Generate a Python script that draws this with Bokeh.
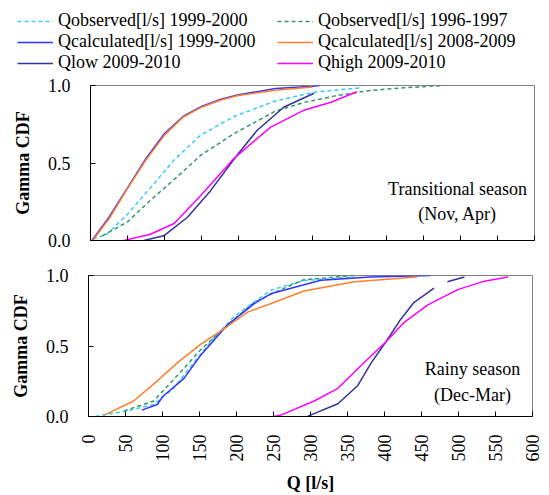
import math
from bokeh.plotting import figure
from bokeh.layouts import column
from bokeh.models import Range1d, FixedTicker, Legend, LegendItem, Label, PrintfTickFormatter
from bokeh.embed import file_html
from bokeh.resources import INLINE

FONT = "Liberation Serif"

# ---------------- data ----------------
x_ticks = [0, 50, 100, 150, 200, 250, 300, 350, 400, 450, 500, 550, 600]
y_ticks = [0.0, 0.5, 1.0]

series_names = [
    "Qobserved[l/s] 1999-2000",
    "Qobserved[l/s] 1996-1997",
    "Qcalculated[l/s] 1999-2000",
    "Qcalculated[l/s] 2008-2009",
    "Qlow 2009-2010",
    "Qhigh 2009-2010",
]

# Transitional season (Nov, Apr)
t_obs99_q = [3, 22, 50, 81, 113, 149, 194, 250, 302, 365]
t_obs99_f = [0.01, 0.04, 0.17, 0.34, 0.52, 0.68, 0.80, 0.90, 0.957, 0.985]
t_obs96_q = [16, 50, 81, 117, 149, 194, 250, 288, 333, 378, 423, 477]
t_obs96_f = [0.03, 0.12, 0.26, 0.41, 0.55, 0.69, 0.835, 0.89, 0.935, 0.968, 0.985, 1.0]
t_calc99_q = [2, 25, 50, 75, 100, 125, 150, 175, 200, 250, 300, 310]
t_calc99_f = [0.0, 0.15, 0.34, 0.53, 0.69, 0.80, 0.865, 0.91, 0.94, 0.98, 0.995, 1.0]
t_calc08_q = [3, 25, 50, 75, 100, 125, 150, 175, 200, 250, 300]
t_calc08_f = [0.0, 0.14, 0.335, 0.52, 0.68, 0.795, 0.86, 0.905, 0.935, 0.97, 0.99]
t_low_q = [72, 99, 131, 162, 198, 225, 261, 302]
t_low_f = [0.0, 0.03, 0.15, 0.32, 0.55, 0.71, 0.86, 0.95]
t_high_q = [45, 81, 113, 149, 194, 243, 288, 324, 360]
t_high_f = [0.0, 0.04, 0.11, 0.29, 0.53, 0.73, 0.84, 0.89, 0.96]

# Rainy season (Dec-Mar)
r_obs99_q = [9, 52, 88, 115, 142, 170, 197, 246, 291, 359]
r_obs99_f = [0.0, 0.04, 0.085, 0.20, 0.38, 0.56, 0.71, 0.895, 0.965, 0.99]
r_obs96_q = [48, 88, 120, 151, 188, 224, 260, 291, 359]
r_obs96_f = [0.04, 0.11, 0.29, 0.47, 0.65, 0.81, 0.90, 0.97, 1.0]
r_calc99_q = [72, 93, 100, 129, 151, 188, 224, 246, 314, 381, 462]
r_calc99_f = [0.045, 0.085, 0.14, 0.27, 0.43, 0.65, 0.80, 0.87, 0.966, 0.99, 1.0]
r_calc08_q = [21, 61, 88, 120, 151, 188, 215, 246, 291, 359, 444]
r_calc08_f = [0.01, 0.11, 0.23, 0.38, 0.51, 0.64, 0.74, 0.80, 0.89, 0.955, 0.99]
r_low_q = [296, 300, 337, 364, 382, 402, 422, 440, 467, float("nan"), 485, 508]
r_low_f = [0.0, 0.01, 0.09, 0.22, 0.38, 0.53, 0.69, 0.81, 0.91, float("nan"), 0.955, 0.99]
r_high_q = [251, 260, 305, 337, 368, 402, 427, 458, 499, 535, 567]
r_high_f = [0.0, 0.01, 0.11, 0.20, 0.36, 0.53, 0.67, 0.79, 0.90, 0.96, 0.99]

# ---------------- styles ----------------
styles = [
    dict(color="#33CCFF", dash="4 3"),
    dict(color="#339966", dash="4 3"),
    dict(color="#3333FF", dash="solid"),
    dict(color="#FF7F2A", dash="solid"),
    dict(color="#333399", dash="solid"),
    dict(color="#FF00FF", dash="solid"),
]


def make_fig(height, left, right, top, bottom, show_xlabels):
    p = figure(width=549, height=height, output_backend="svg", toolbar_location=None,
               x_range=Range1d(0, 600), y_range=Range1d(0, 1),
               min_border_left=left, min_border_right=right,
               min_border_top=top, min_border_bottom=bottom)
    p.frame_align = False
    p.xgrid.visible = False
    p.ygrid.visible = False
    p.outline_line_color = "#808080"
    p.outline_line_width = 1
    p.background_fill_color = "white"
    p.border_fill_color = "white"

    p.yaxis.ticker = FixedTicker(ticks=y_ticks)
    p.yaxis.formatter = PrintfTickFormatter(format="%.1f")
    p.yaxis.minor_tick_line_color = None
    p.yaxis.major_tick_in = 5
    p.yaxis.major_tick_out = 0
    p.yaxis.axis_line_color = "black"
    p.yaxis.major_tick_line_color = "black"
    p.yaxis.major_label_text_font = FONT
    p.yaxis.major_label_text_font_size = "18px"
    p.yaxis.major_label_text_color = "black"
    p.yaxis.major_label_standoff = 20
    p.yaxis.axis_label = "Gamma CDF"
    p.yaxis.axis_label_text_font = FONT
    p.yaxis.axis_label_text_font_size = "18px"
    p.yaxis.axis_label_text_font_style = "bold"
    p.yaxis.axis_label_text_color = "black"
    p.yaxis.axis_label_standoff = 12

    p.xaxis.ticker = FixedTicker(ticks=x_ticks)
    p.xaxis.minor_tick_line_color = None
    p.xaxis.major_tick_in = 5
    p.xaxis.major_tick_out = 0
    p.xaxis.axis_line_color = "black"
    p.xaxis.major_tick_line_color = "black"
    p.xaxis.major_label_text_font = FONT
    p.xaxis.major_label_text_font_size = "18px"
    p.xaxis.major_label_text_color = "black"
    if show_xlabels:
        p.xaxis.major_label_orientation = math.pi / 2
        p.xaxis.major_label_standoff = 18
        p.xaxis.axis_label = "Q [l/s]"
        p.xaxis.axis_label_text_font = FONT
        p.xaxis.axis_label_text_font_size = "18px"
        p.xaxis.axis_label_text_font_style = "bold"
        p.xaxis.axis_label_text_color = "black"
        p.xaxis.axis_label_standoff = 8
    else:
        p.xaxis.major_label_overrides = {t: "" for t in x_ticks}
        p.xaxis.major_label_standoff = 0
    return p


def draw(p, qs, fs, visible=True):
    rs = []
    for q, f, st in zip(qs, fs, styles):
        r = p.line(q, f, line_color=st["color"], line_dash=st["dash"], line_width=1.5,
                   visible=visible)
        rs.append(r)
    return rs


top_qs = [t_obs99_q, t_obs96_q, t_calc99_q, t_calc08_q, t_low_q, t_high_q]
top_fs = [t_obs99_f, t_obs96_f, t_calc99_f, t_calc08_f, t_low_f, t_high_f]

# ---------------- legend strip ----------------
leg = figure(width=549, height=75, output_backend="svg", toolbar_location=None,
             x_range=Range1d(0, 600), y_range=Range1d(0, 1),
             x_axis_location=None, y_axis_location=None,
             min_border_left=0, min_border_right=0, min_border_top=0, min_border_bottom=0)
leg.frame_align = False
leg.xgrid.visible = False
leg.ygrid.visible = False
leg.outline_line_color = None
leg_rs = draw(leg, top_qs, top_fs, visible=False)

order = [0, 2, 4, 1, 3, 5]
legend = Legend(
    items=[LegendItem(label=series_names[i], renderers=[leg_rs[i]]) for i in order],
    location=(17, 2), orientation="vertical", ncols=2, nrows=3,
    padding=0, margin=0, spacing=0, click_policy="none",
    glyph_width=36, glyph_height=20, label_height=20, label_width=219, label_standoff=5,
    label_text_font=FONT, label_text_font_size="18px", label_text_color="black",
    border_line_color=None, background_fill_alpha=0,
)
leg.add_layout(legend)

# ---------------- top panel ----------------
top = make_fig(175, 90, 15, 10, 10, False)
draw(top, top_qs, top_fs)

top.add_layout(Label(x=496, y=0.335, text="Transitional season", text_align="center",
                     text_baseline="middle", text_font=FONT, text_font_size="18px",
                     text_color="black"))
top.add_layout(Label(x=496, y=0.168, text="(Nov, Apr)", text_align="center",
                     text_baseline="middle", text_font=FONT, text_font_size="18px",
                     text_color="black"))

# ---------------- bottom panel ----------------
bot = make_fig(245, 88, 17, 25, 72, True)
draw(bot,
     [r_obs99_q, r_obs96_q, r_calc99_q, r_calc08_q, r_low_q, r_high_q],
     [r_obs99_f, r_obs96_f, r_calc99_f, r_calc08_f, r_low_f, r_high_f])

bot.add_layout(Label(x=519, y=0.336, text="Rainy season", text_align="center",
                     text_baseline="middle", text_font=FONT, text_font_size="18px",
                     text_color="black"))
bot.add_layout(Label(x=519, y=0.154, text="(Dec-Mar)", text_align="center",
                     text_baseline="middle", text_font=FONT, text_font_size="18px",
                     text_color="black"))

layout = column(leg, top, bot, spacing=0)
open("out.html", "w").write(file_html(layout, INLINE))
